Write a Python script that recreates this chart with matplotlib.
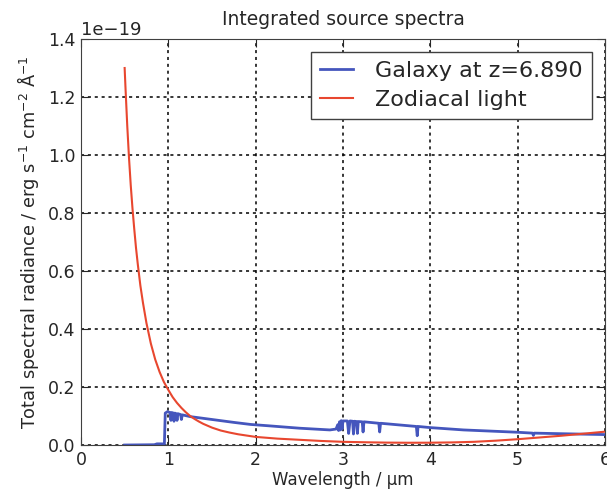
import numpy as np
import matplotlib
matplotlib.use('Agg')
import matplotlib.pyplot as plt

# zodiacal light, flux in units of 1e-19 erg/s/cm^2/A
zodi_wl = [0.50, 0.51, 0.52, 0.53, 0.54, 0.55, 0.57, 0.59, 0.61, 0.63,
           0.65, 0.68, 0.71, 0.75, 0.80, 0.85, 0.90, 0.95, 1.00, 1.05,
           1.10, 1.15, 1.20, 1.25, 1.30, 1.35, 1.40, 1.50, 1.60, 1.70,
           1.80, 2.00, 2.25, 2.50, 2.75, 3.00, 3.25, 3.50, 3.75, 4.00,
           4.25, 4.50, 4.75, 5.00, 5.25, 5.50, 5.75, 6.00]
zodi_flux = [1.30, 1.23, 1.165, 1.10, 1.045, 0.99, 0.895, 0.815, 0.745, 0.68,
             0.625, 0.55, 0.49, 0.42, 0.35, 0.295, 0.252, 0.217, 0.19, 0.165,
             0.145, 0.128, 0.113, 0.100, 0.090, 0.081, 0.073, 0.060, 0.050, 0.043,
             0.037, 0.028, 0.022, 0.018, 0.014, 0.011, 0.0095, 0.0083, 0.0078, 0.008,
             0.009, 0.011, 0.015, 0.020, 0.026, 0.032, 0.039, 0.046]

# galaxy spectrum at z=6.89 (incl. absorption dips)
gal_wl = [0.50, 0.84, 0.87, 0.93, 0.955, 0.965, 0.99, 1.02, 1.03, 1.04,
          1.06, 1.065, 1.075, 1.09, 1.10, 1.11, 1.14, 1.15, 1.16, 1.25,
          1.40, 1.55, 1.75, 1.94, 2.16, 2.50, 2.85, 2.92, 2.94, 2.95,
          2.96, 2.97, 2.98, 2.99, 3.00, 3.05, 3.065, 3.08, 3.11, 3.12,
          3.13, 3.155, 3.165, 3.175, 3.22, 3.23, 3.24, 3.41, 3.42, 3.43,
          3.84, 3.85, 3.86, 4.00, 4.38, 5.00, 5.17, 5.18, 5.19, 5.50, 6.00]
gal_flux = [0.000, 0.001, 0.004, 0.004, 0.003, 0.110, 0.115, 0.112, 0.085, 0.112,
            0.110, 0.082, 0.110, 0.108, 0.085, 0.108, 0.105, 0.088, 0.104, 0.098,
            0.092, 0.086, 0.078, 0.071, 0.066, 0.058, 0.052, 0.055, 0.070, 0.050,
            0.080, 0.052, 0.084, 0.055, 0.083, 0.083, 0.040, 0.083, 0.082, 0.038,
            0.082, 0.081, 0.040, 0.081, 0.080, 0.045, 0.080, 0.075, 0.045, 0.075,
            0.064, 0.032, 0.064, 0.060, 0.052, 0.044, 0.041, 0.033, 0.041, 0.039, 0.036]

scale = 1e-19
TXT = '#262626'

fig = plt.figure(figsize=(6.07, 4.92), dpi=100)
ax = fig.add_axes([0.1334, 0.0955, 0.8633, 0.8252])

ax.plot(gal_wl, np.array(gal_flux) * scale, color='#4556bd', lw=2.0,
        label='Galaxy at z=6.890')
ax.plot(zodi_wl, np.array(zodi_flux) * scale, color='#e8472f', lw=1.5,
        label='Zodiacal light')

ax.set_xlim(0, 6)
ax.set_ylim(0, 1.4e-19)
ax.set_xticks(range(7))
ax.set_yticks(np.arange(0, 1.41, 0.2) * scale)
ax.grid(True, color='black', linestyle=(0, (2, 2.5)), linewidth=1.1)
ax.tick_params(direction='in', top=True, right=True, length=6, labelsize=12.5,
               colors=TXT, pad=4)
for s in ax.spines.values():
    s.set_color('#404040')
ax.yaxis.get_offset_text().set_fontsize(13)
ax.yaxis.get_offset_text().set_color(TXT)

ax.set_title('Integrated source spectra', fontsize=13.5, color=TXT, pad=10)
ax.set_xlabel('Wavelength / µm', fontsize=12, color=TXT, labelpad=2)
ax.set_ylabel(r'Total spectral radiance / erg s$^{-1}$ cm$^{-2}$ Å$^{-1}$',
              fontsize=12.8, color=TXT, labelpad=5)

leg = ax.legend(loc='upper right', fontsize=16, fancybox=False, framealpha=1,
                handlelength=1.5, handletextpad=1.0, borderaxespad=0.6,
                labelspacing=0.4)
leg.get_frame().set_edgecolor('#404040')
for t in leg.get_texts():
    t.set_color(TXT)

fig.savefig('out.png', dpi=100)
